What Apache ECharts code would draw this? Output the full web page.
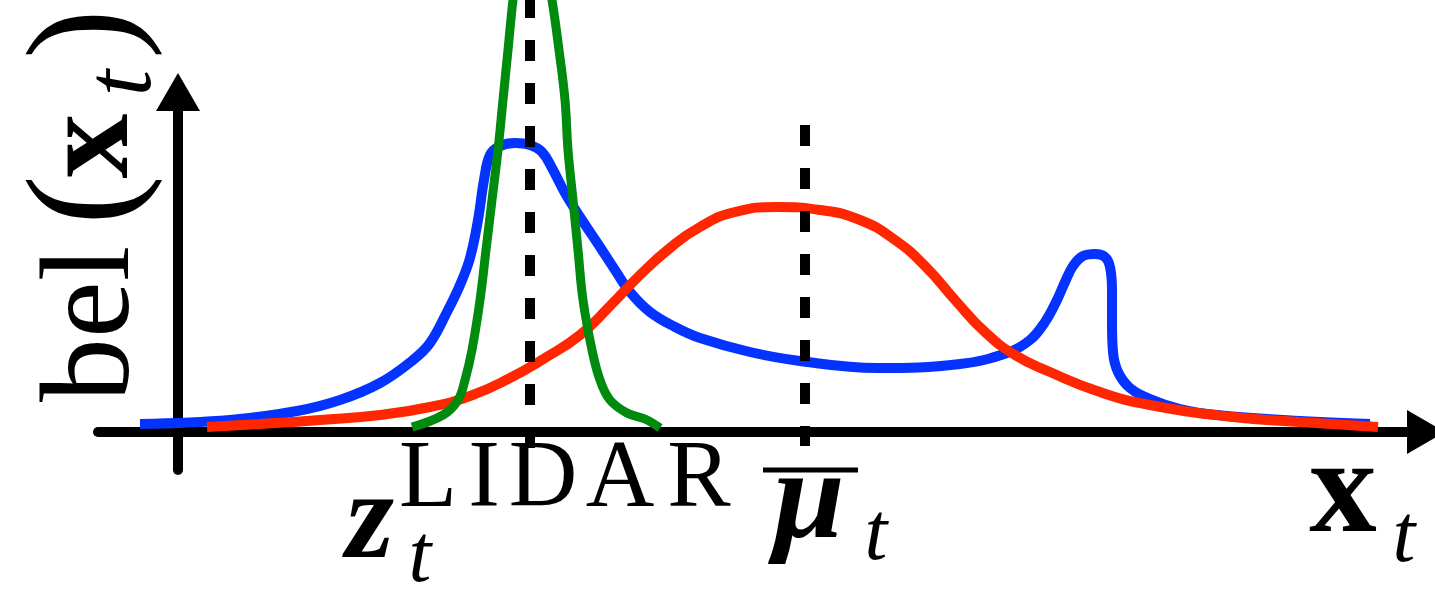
<!DOCTYPE html>
<html>
<head>
<meta charset="utf-8">
<script src="https://cdn.jsdelivr.net/npm/echarts@6/dist/echarts.min.js"></script>
<style>
  html, body { margin: 0; padding: 0; background: #fff; }
  #main { width: 1435px; height: 592px; }
</style>
</head>
<body>
<div id="main"></div>
<script>
// Belief over the state x_t, in arbitrary units (x along the state axis, y = density).
// Multimodal belief (blue): a sharp mode near the LIDAR reading, a smaller one far right.
const beliefPoints = [
  [-0.38, 0.08], [0.52, 0.12], [1.19, 0.21], [1.62, 0.32], [2.02, 0.49],
  [2.35, 0.72], [2.52, 0.89], [2.69, 1.20], [2.82, 1.47], [2.92, 1.74],
  [3.00, 2.12], [3.06, 2.52], [3.12, 2.77], [3.22, 2.86], [3.37, 2.89],
  [3.52, 2.87], [3.64, 2.80], [3.74, 2.64], [3.87, 2.39], [4.02, 2.15],
  [4.22, 1.85], [4.37, 1.62], [4.52, 1.40], [4.72, 1.20], [4.97, 1.05],
  [5.22, 0.94], [5.72, 0.80], [6.22, 0.71], [6.99, 0.64], [7.82, 0.68],
  [8.29, 0.79], [8.52, 0.92], [8.67, 1.10], [8.79, 1.32], [8.87, 1.50],
  [8.95, 1.66], [9.05, 1.76], [9.17, 1.78], [9.27, 1.75], [9.32, 1.65],
  [9.34, 1.42], [9.34, 1.09], [9.35, 0.80], [9.40, 0.60], [9.52, 0.44],
  [9.72, 0.33], [10.02, 0.23], [10.39, 0.17], [11.22, 0.11], [11.92, 0.08]
];
// Single Gaussian approximation (red) with mean mu_bar.
const gaussianPoints = [
  [0.29, 0.05], [0.82, 0.08], [1.42, 0.12], [2.02, 0.17], [2.52, 0.25],
  [2.92, 0.36], [3.32, 0.54], [3.67, 0.74], [4.02, 0.97], [4.32, 1.26],
  [4.62, 1.57], [4.92, 1.84], [5.22, 2.05], [5.57, 2.20], [5.99, 2.25],
  [6.42, 2.22], [6.82, 2.12], [7.17, 1.92], [7.47, 1.66], [7.77, 1.32],
  [8.07, 1.00], [8.37, 0.77], [8.72, 0.60], [9.22, 0.40], [9.72, 0.27],
  [10.55, 0.15], [11.22, 0.10], [12.00, 0.05]
];
// Narrow LIDAR measurement likelihood (green); its peak rises past the top.
const lidarPoints = [
  [2.34, 0.05], [2.65, 0.17], [2.80, 0.32], [2.87, 0.52], [2.94, 0.82],
  [3.02, 1.32], [3.08, 1.82], [3.14, 2.32], [3.20, 2.82], [3.25, 3.32],
  [3.30, 3.82], [3.35, 4.32], [3.43, 4.92], [3.53, 5.17], [3.63, 4.92],
  [3.74, 4.32], [3.81, 3.82], [3.87, 3.32], [3.90, 2.82], [3.95, 2.32],
  [4.00, 1.82], [4.05, 1.32], [4.14, 0.82], [4.22, 0.52], [4.32, 0.32],
  [4.49, 0.19], [4.67, 0.13], [4.82, 0.04]
];
// Reference positions on the state axis.
const zLidarX = 3.52;
const muBarX = 6.27;
// Vertical extent of the two dashed markers.
const zLidarSpan = [-0.16, 4.6];
const muBarSpan = [3.07, -0.14];
// Axis ranges.
const xRange = [-0.8, 12.48];
const yRange = [-0.38, 3.40];

const SERIF = '"Liberation Serif", "Times New Roman", Tinos';

// Touch every face once so the canvas has them ready before drawing.
(function warmFonts() {
  const ctx = document.createElement('canvas').getContext('2d');
  ['', 'bold ', 'italic ', 'italic bold '].forEach(v => {
    ctx.font = v + '40px ' + SERIF + ', monospace';
    ctx.measureText('LIDAR bel xt \u03bc z');
  });
})();

const axisLineStyle = {
  show: true,
  onZero: true,
  lineStyle: { color: '#000', width: 10 },
  symbol: ['none', 'triangle'],
  symbolSize: [44, 38]
};

const option = {
  animation: false,
  backgroundColor: '#fff',
  grid: { left: 98, right: 9, top: 92, bottom: 122, containLabel: false, outerBoundsMode: 'none' },
  xAxis: {
    type: 'value', min: xRange[0], max: xRange[1],
    axisLine: axisLineStyle,
    axisTick: { show: false }, axisLabel: { show: false }, splitLine: { show: false }
  },
  yAxis: {
    type: 'value', min: yRange[0], max: yRange[1],
    axisLine: axisLineStyle,
    axisTick: { show: false }, axisLabel: { show: false }, splitLine: { show: false }
  },
  series: [
    {
      name: 'belief', type: 'line', data: beliefPoints, smooth: 0.4,
      showSymbol: false, silent: true, z: 3,
      lineStyle: { color: '#0433ff', width: 10 }
    },
    {
      name: 'gaussian', type: 'line', data: gaussianPoints, smooth: 0.5,
      showSymbol: false, silent: true, z: 4,
      lineStyle: { color: '#ff2600', width: 10 }
    },
    {
      name: 'lidar', type: 'line', data: lidarPoints, smooth: 0.4,
      showSymbol: false, silent: true, clip: false, z: 5,
      lineStyle: { color: '#008a0e', width: 9 }
    },
    {
      name: 'zLidar', type: 'line', silent: true, clip: false, z: 6,
      data: zLidarSpan.map(v => [zLidarX, v]),
      showSymbol: false,
      lineStyle: { color: '#000', width: 10, type: [21, 22] }
    },
    {
      name: 'muBar', type: 'line', silent: true, clip: false, z: 6,
      data: muBarSpan.map(v => [muBarX, v]),
      showSymbol: false,
      lineStyle: { color: '#000', width: 10, type: [21, 22] }
    }
  ]
};

// Text helper: y is the glyph baseline; zrender draws with a 'middle' baseline.
function glyph(text, x, baseline, size, opts) {
  opts = opts || {};
  const face = (opts.style === 'italic' ? 'italic ' : '') + (opts.weight === 'bold' ? 'bold ' : '');
  return {
    type: 'text', x: x, y: baseline - 0.34 * size, z: 100, silent: true,
    style: {
      text: text, fill: '#000', align: opts.align || 'center', verticalAlign: 'middle',
      font: face + size + 'px ' + SERIF
    }
  };
}

const chart = echarts.init(document.getElementById('main'), null, { renderer: 'canvas' });

function draw() {
  chart.clear();
  chart.setOption(option);
  const zx = chart.convertToPixel({ xAxisIndex: 0 }, zLidarX);
  const mx = chart.convertToPixel({ xAxisIndex: 0 }, muBarX);
  const ox = chart.convertToPixel({ xAxisIndex: 0 }, 0);
  chart.setOption({
    graphic: [
      // vertical axis title bel(x_t), reading bottom to top
      {
        type: 'group', x: ox - 40, y: 400, rotation: Math.PI / 2, z: 100,
        children: [
          glyph('bel', -2, 0, 128, { align: 'left' }),
          glyph('(', 200, 4, 150),
          glyph('x', 254, 0, 130, { weight: 'bold' }),
          glyph('t', 317, 19, 95, { style: 'italic' }),
          glyph(')', 366, 4, 150)
        ]
      },
      // horizontal axis title x_t
      glyph('x', 1343, 542, 135, { weight: 'bold' }),
      glyph('t', 1404, 567, 82, { style: 'italic' }),
      // z_t^LIDAR under the measurement marker
      glyph('z', zx - 160, 567, 124, { weight: 'bold', style: 'italic' }),
      glyph('t', zx - 110, 587, 82, { style: 'italic' }),
      glyph('L', zx - 102, 513, 95),
      glyph('I', zx - 46, 513, 95),
      glyph('D', zx + 13, 513, 95),
      glyph('A', zx + 90, 513, 95),
      glyph('R', zx + 169, 513, 95),
      // mu_bar_t under the Gaussian mean marker
      {
        type: 'line', z: 100, silent: true,
        shape: { x1: mx - 42, y1: 470, x2: mx + 53, y2: 470 },
        style: { stroke: '#000', lineWidth: 5 }
      },
      glyph('\u03bc', mx + 4, 547, 128, { weight: 'bold', style: 'italic' }),
      glyph('t', mx + 71, 565, 82, { style: 'italic' })
    ]
  });
}

draw();
if (document.fonts && document.fonts.ready) {
  document.fonts.ready.then(draw);
}
</script>
</body>
</html>
